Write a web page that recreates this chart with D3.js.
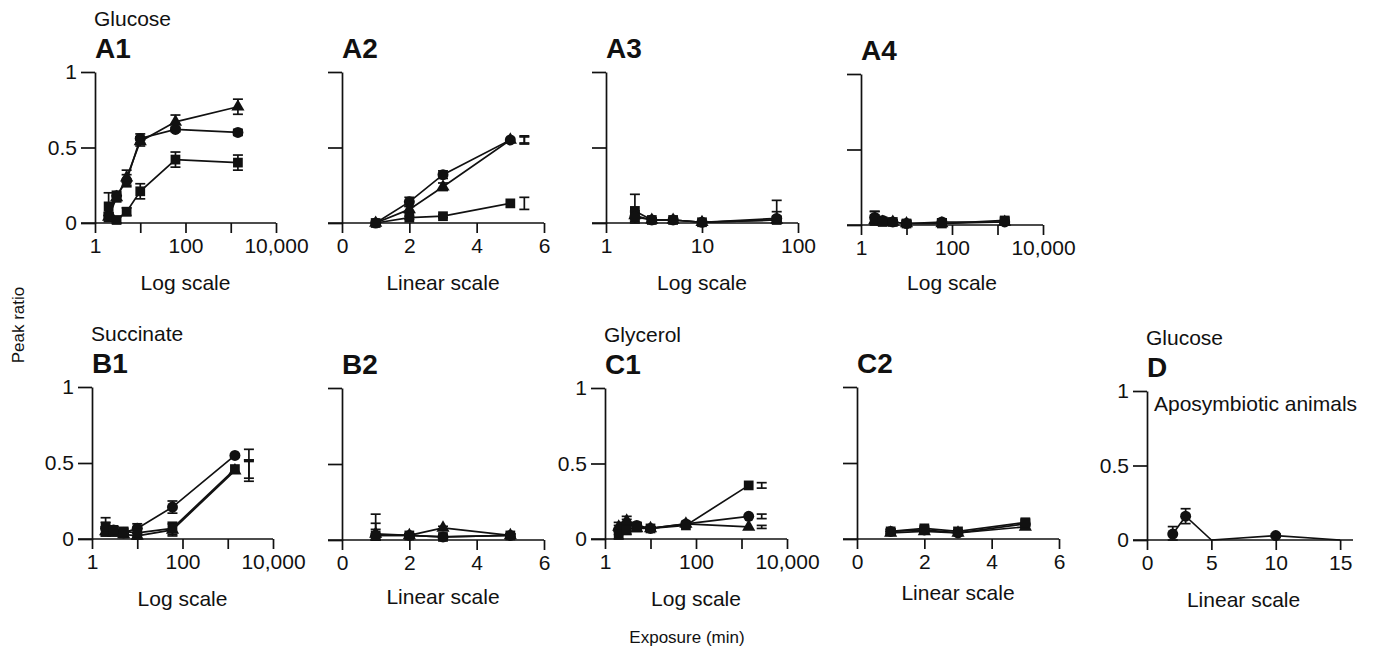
<!DOCTYPE html>
<html>
<head>
<meta charset="utf-8">
<script src="https://cdn.jsdelivr.net/npm/d3@7/dist/d3.min.js"></script>
<style>
  html, body { margin: 0; padding: 0; background: #fff; }
  svg { display: block; }
  text { font-family: "Liberation Sans", Arial, Helvetica, sans-serif; fill: #111; }
</style>
</head>
<body>
<svg id="chart" width="1374" height="651"></svg>
<script>
// ---- Exposure times (min) ----
const logTimes = [2, 3, 5, 10, 60, 1440];
const shortLogTimes = [2, 3, 5, 10, 60];
const linTimes = [1, 2, 3, 5];
const apoTimes = [2, 3, 5, 10, 15];

// ---- Tick values and labels ----
const yTicks = [0, 0.5, 1];
const yTickLabels = ["0", "0.5", "1"];
const logTicks = [1, 10, 100, 1000, 10000];
const logTickLabels = ["1", "", "100", "", "10,000"];
const shortLogTicks = [1, 10, 100];
const shortLogTickLabels = ["1", "10", "100"];
const linTicks = [0, 2, 4, 6];
const linTickLabels = ["0", "2", "4", "6"];
const apoTicks = [0, 5, 10, 15];
const apoTickLabels = ["0", "5", "10", "15"];

// ---- A1: glucose, log time ----
const a1Circle = [0.05, 0.18, 0.28, 0.56, 0.62, 0.60];
const a1CircleErr = [0.02, 0.03, 0.04, 0.03, 0.015, 0.02];
const a1Triangle = [0.04, 0.17, 0.30, 0.54, 0.67, 0.77];
const a1TriangleErr = [0.03, 0.03, 0.05, 0.03, 0.045, 0.05];
const a1Square = [0.11, 0.02, 0.075, 0.21, 0.42, 0.40];
const a1SquareErr = [0.09, 0.02, 0.025, 0.05, 0.05, 0.05];

// ---- A2: glucose, linear time ----
const a2Circle = [0, 0.14, 0.32, 0.55];
const a2CircleErr = [0, 0.03, 0.025, 0.027];
const a2Triangle = [0, 0.09, 0.24, 0.55];
const a2TriangleErr = [0, 0.02, 0.025, 0.02];
const a2Square = [0, 0.035, 0.045, 0.13];
const a2SquareErr = [0, 0.01, 0.01, 0.04];

// ---- A3: glucose, log time to 100 min ----
const a3Circle = [0.04, 0.02, 0.02, 0.005, 0.03];
const a3CircleErr = [0.03, 0.01, 0.01, 0.005, 0.045];
const a3Triangle = [0.05, 0.02, 0.02, 0.005, 0.02];
const a3TriangleErr = [0.03, 0.01, 0.01, 0.005, 0.02];
const a3Square = [0.08, 0.02, 0.02, 0.005, 0.02];
const a3SquareErr = [0.11, 0.01, 0.01, 0.005, 0.13];

// ---- A4: glucose, log time ----
const a4Circle = [0.05, 0.03, 0.02, 0.01, 0.02, 0.02];
const a4CircleErr = [0.04, 0.02, 0.01, 0.02, 0.02, 0.02];
const a4Triangle = [0.03, 0.02, 0.02, 0.01, 0.01, 0.02];
const a4TriangleErr = [0.02, 0.01, 0.01, 0.01, 0.01, 0.01];
const a4Square = [0.04, 0.02, 0.02, 0.01, 0.01, 0.03];
const a4SquareErr = [0.05, 0.02, 0.01, 0.02, 0.03, 0.02];

// ---- B1: succinate, log time ----
const b1Circle = [0.07, 0.06, 0.04, 0.07, 0.21, 0.55];
const b1CircleErr = [0.04, 0.02, 0.02, 0.03, 0.04, 0.04];
const b1Triangle = [0.05, 0.04, 0.03, 0.02, 0.06, 0.45];
const b1TriangleErr = [0.03, 0.02, 0.02, 0.02, 0.04, 0.07];
const b1Square = [0.08, 0.06, 0.05, 0.04, 0.07, 0.46];
const b1SquareErr = [0.06, 0.02, 0.02, 0.03, 0.04, 0.06];

// ---- B2: succinate, linear time ----
const b2Circle = [0.03, 0.03, 0.02, 0.03];
const b2CircleErr = [0.04, 0.01, 0.01, 0.01];
const b2Triangle = [0.04, 0.03, 0.08, 0.03];
const b2TriangleErr = [0.07, 0.01, 0.01, 0.01];
const b2Square = [0.03, 0.03, 0.02, 0.03];
const b2SquareErr = [0.14, 0.01, 0.01, 0.01];

// ---- C1: glycerol, log time ----
const c1Circle = [0.06, 0.10, 0.09, 0.07, 0.10, 0.15];
const c1CircleErr = [0.03, 0.03, 0.02, 0.01, 0.01, 0.015];
const c1Triangle = [0.08, 0.12, 0.07, 0.07, 0.10, 0.08];
const c1TriangleErr = [0.03, 0.03, 0.02, 0.01, 0.01, 0.01];
const c1Square = [0.03, 0.06, 0.08, 0.07, 0.09, 0.355];
const c1SquareErr = [0.04, 0.03, 0.02, 0.01, 0.01, 0.018];

// ---- C2: glycerol, linear time ----
const c2Circle = [0.05, 0.06, 0.04, 0.10];
const c2CircleErr = [0.015, 0.015, 0.01, 0.02];
const c2Triangle = [0.04, 0.05, 0.04, 0.08];
const c2TriangleErr = [0.01, 0.01, 0.01, 0.015];
const c2Square = [0.05, 0.07, 0.05, 0.11];
const c2SquareErr = [0.015, 0.015, 0.01, 0.02];

// ---- D: glucose, aposymbiotic animals ----
const dCircle = [0.04, 0.16, 0, 0.03, 0];
const dCircleErr = [0.05, 0.05, 0, 0.01, 0];

// ---- Panel layout ----
const FS = 21;
const panels = [
  { label: "A1", group: "Glucose", type: "log", domain: [1, 10000], x0: 95, x1: 276, yTop: 72, yBot: 223,
    ticks: logTicks, tickLabels: logTickLabels, yLabels: true, xTitle: "Log scale", titleDy: 67,
    series: [
      { shape: "circle", t: logTimes, v: a1Circle, e: a1CircleErr },
      { shape: "triangle", t: logTimes, v: a1Triangle, e: a1TriangleErr },
      { shape: "square", t: logTimes, v: a1Square, e: a1SquareErr } ] },
  { label: "A2", type: "lin", domain: [0, 6], x0: 342, x1: 544, yTop: 72, yBot: 223,
    ticks: linTicks, tickLabels: linTickLabels, yLabels: false, xTitle: "Linear scale", titleDy: 67, errShift: 14,
    series: [
      { shape: "circle", t: linTimes, v: a2Circle, e: a2CircleErr },
      { shape: "triangle", t: linTimes, v: a2Triangle, e: a2TriangleErr },
      { shape: "square", t: linTimes, v: a2Square, e: a2SquareErr } ] },
  { label: "A3", type: "log", domain: [1, 100], x0: 606, x1: 798, yTop: 72, yBot: 223,
    ticks: shortLogTicks, tickLabels: shortLogTickLabels, yLabels: false, xTitle: "Log scale", titleDy: 67,
    series: [
      { shape: "triangle", t: shortLogTimes, v: a3Triangle, e: a3TriangleErr },
      { shape: "square", t: shortLogTimes, v: a3Square, e: a3SquareErr },
      { shape: "circle", t: shortLogTimes, v: a3Circle, e: a3CircleErr } ] },
  { label: "A4", type: "log", domain: [1, 10000], x0: 861, x1: 1043, yTop: 74, yBot: 225,
    ticks: logTicks, tickLabels: logTickLabels, yLabels: false, xTitle: "Log scale", titleDy: 65,
    series: [
      { shape: "circle", t: logTimes, v: a4Circle, e: a4CircleErr },
      { shape: "triangle", t: logTimes, v: a4Triangle, e: a4TriangleErr },
      { shape: "square", t: logTimes, v: a4Square, e: a4SquareErr } ] },
  { label: "B1", group: "Succinate", type: "log", domain: [1, 10000], x0: 92, x1: 273, yTop: 387, yBot: 539,
    ticks: logTicks, tickLabels: logTickLabels, yLabels: true, xTitle: "Log scale", titleDy: 67, errShift: 14,
    series: [
      { shape: "circle", t: logTimes, v: b1Circle, e: b1CircleErr },
      { shape: "triangle", t: logTimes, v: b1Triangle, e: b1TriangleErr },
      { shape: "square", t: logTimes, v: b1Square, e: b1SquareErr } ] },
  { label: "B2", type: "lin", domain: [0, 6], x0: 342, x1: 544, yTop: 388, yBot: 540,
    ticks: linTicks, tickLabels: linTickLabels, yLabels: false, xTitle: "Linear scale", titleDy: 64,
    series: [
      { shape: "circle", t: linTimes, v: b2Circle, e: b2CircleErr },
      { shape: "triangle", t: linTimes, v: b2Triangle, e: b2TriangleErr },
      { shape: "square", t: linTimes, v: b2Square, e: b2SquareErr } ] },
  { label: "C1", group: "Glycerol", type: "log", domain: [1, 10000], x0: 605, x1: 787, yTop: 388, yBot: 539,
    ticks: logTicks, tickLabels: logTickLabels, yLabels: true, xTitle: "Log scale", titleDy: 67, errShift: 13,
    series: [
      { shape: "circle", t: logTimes, v: c1Circle, e: c1CircleErr },
      { shape: "triangle", t: logTimes, v: c1Triangle, e: c1TriangleErr },
      { shape: "square", t: logTimes, v: c1Square, e: c1SquareErr } ] },
  { label: "C2", type: "lin", domain: [0, 6], x0: 857, x1: 1059, yTop: 387, yBot: 539,
    ticks: linTicks, tickLabels: linTickLabels, yLabels: false, xTitle: "Linear scale", titleDy: 61,
    series: [
      { shape: "circle", t: linTimes, v: c2Circle, e: c2CircleErr },
      { shape: "triangle", t: linTimes, v: c2Triangle, e: c2TriangleErr },
      { shape: "square", t: linTimes, v: c2Square, e: c2SquareErr } ] },
  { label: "D", group: "Glucose", type: "lin", domain: [0, 16], x0: 1147, x1: 1353, yTop: 391, yBot: 540,
    ticks: apoTicks, tickLabels: apoTickLabels, yLabels: true, xTitle: "Linear scale", titleDy: 67,
    hideZeroMarks: true, note: "Aposymbiotic animals",
    series: [ { shape: "circle", t: apoTimes, v: dCircle, e: dCircleErr } ] }
];

const svg = d3.select("#chart");
const symbolOf = {
  circle: d3.symbol(d3.symbolCircle, 95),
  square: d3.symbol(d3.symbolSquare, 95),
  triangle: d3.symbol(d3.symbolTriangle, 75)
};

panels.forEach(p => {
  const g = svg.append("g");
  const x = (p.type === "log" ? d3.scaleLog() : d3.scaleLinear()).domain(p.domain).range([p.x0, p.x1]);
  const y = d3.scaleLinear().domain([0, 1]).range([p.yBot, p.yTop]);
  const tickLen = 14;

  // x axis: baseline runs from the end of the y ticks to the end of the range
  g.append("line")
    .attr("x1", p.x0 - tickLen).attr("x2", p.x1)
    .attr("y1", p.yBot).attr("y2", p.yBot)
    .attr("stroke", "#111").attr("stroke-width", 1.7);
  const xAxis = g.append("g").attr("transform", `translate(0,${p.yBot})`)
    .call(d3.axisBottom(x).tickValues(p.ticks).tickSize(10).tickSizeOuter(0).tickPadding(5)
      .tickFormat((d, i) => p.tickLabels[i]));
  xAxis.select(".domain").remove();
  xAxis.selectAll(".tick line").attr("stroke", "#111").attr("stroke-width", 1.7);
  xAxis.selectAll(".tick text").attr("font-size", FS).attr("fill", "#111")
    .style("font-family", '"Liberation Sans", Arial, sans-serif');

  // y axis
  const yAxis = g.append("g").attr("transform", `translate(${p.x0},0)`)
    .call(d3.axisLeft(y).tickValues(yTicks).tickSize(tickLen).tickSizeOuter(0).tickPadding(4)
      .tickFormat((d, i) => p.yLabels ? yTickLabels[i] : ""));
  yAxis.select(".domain").attr("stroke", "#111").attr("stroke-width", 1.7);
  yAxis.selectAll(".tick line").attr("stroke", "#111").attr("stroke-width", 1.7);
  yAxis.selectAll(".tick text").attr("font-size", FS).attr("fill", "#111")
    .style("font-family", '"Liberation Sans", Arial, sans-serif');

  // axis title, centred between first and last tick
  const tFirst = p.ticks[0], tLast = p.ticks[p.ticks.length - 1];
  g.append("text")
    .attr("x", (x(tFirst) + x(tLast)) / 2).attr("y", p.yBot + p.titleDy)
    .attr("text-anchor", "middle").attr("font-size", FS).text(p.xTitle);

  // panel letter and substrate name
  g.append("text").attr("x", p.x0).attr("y", p.yTop - 14)
    .attr("font-size", 28).attr("font-weight", "bold").text(p.label);
  if (p.group) {
    g.append("text").attr("x", p.x0 - 1).attr("y", p.yTop - 46)
      .attr("font-size", FS).text(p.group);
  }
  if (p.note) {
    g.append("text").attr("x", p.x0 + 7).attr("y", p.yTop + 20)
      .attr("font-size", FS).text(p.note);
  }

  const line = d3.line().x(d => x(d.t)).y(d => y(d.v));
  const pts = p.series.map(s => s.t.map((t, i) => ({ t, v: s.v[i], e: s.e[i], shape: s.shape, last: i === s.t.length - 1 })));

  // connecting lines
  pts.forEach(arr => g.append("path").datum(arr).attr("d", line)
    .attr("fill", "none").attr("stroke", "#111").attr("stroke-width", 1.7));

  // error bars (last one offset to the right where set)
  const cap = 5;
  pts.flat().filter(d => d.e > 0).forEach(d => {
    const cx = x(d.t) + (d.last && p.errShift ? p.errShift : 0);
    const yHi = y(d.v + d.e), yLo = y(Math.max(0, d.v - d.e));
    const eg = g.append("g").attr("stroke", "#111").attr("stroke-width", 1.7);
    eg.append("line").attr("x1", cx).attr("x2", cx).attr("y1", yHi).attr("y2", yLo);
    eg.append("line").attr("x1", cx - cap).attr("x2", cx + cap).attr("y1", yHi).attr("y2", yHi);
    eg.append("line").attr("x1", cx - cap).attr("x2", cx + cap).attr("y1", yLo).attr("y2", yLo);
  });

  // markers
  pts.flat().filter(d => !(p.hideZeroMarks && d.v === 0)).forEach(d => {
    g.append("path").attr("d", symbolOf[d.shape]())
      .attr("transform", `translate(${x(d.t)},${y(d.v)})`)
      .attr("fill", "#111");
  });
});

// shared axis titles
svg.append("text").attr("x", 687).attr("y", 643).attr("text-anchor", "middle")
  .attr("font-size", 17).text("Exposure (min)");
svg.append("text").attr("transform", "translate(24,325) rotate(-90)").attr("text-anchor", "middle")
  .attr("font-size", 17).text("Peak ratio");
</script>
</body>
</html>
